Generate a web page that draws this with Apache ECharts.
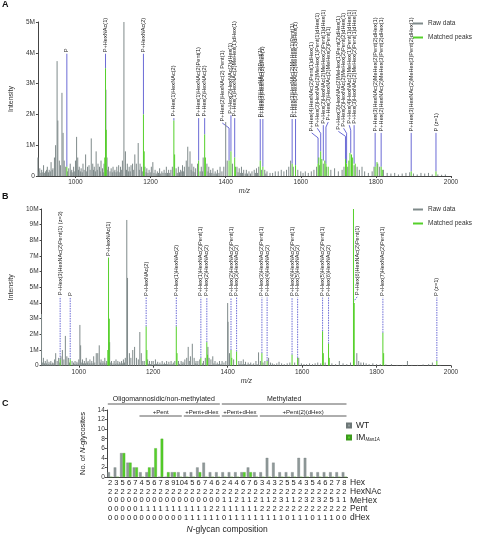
<!DOCTYPE html>
<html><head><meta charset="utf-8">
<script src="https://cdn.jsdelivr.net/npm/echarts@6/dist/echarts.min.js"></script>
<style>html,body{margin:0;padding:0;background:#fff}#c{width:477px;height:535px}</style>
</head><body><div id="c"></div>
<script>
// ---------- DATA ----------
const mzTicks = [1000, 1200, 1400, 1600, 1800, 2000];

// Panel A raw spectrum [m/z, intensity (M)]
const rawA = [[900,0.6],[903,0.15],[905,0.25],[908,0.1],[910,0.2],[913,0.12],[915,0.35],[918,0.1],[920,0.15],[923,0.2],[925,0.3],[928,0.12],[930,0.2],[933,0.15],[935,0.45],[938,0.2],[940,0.25],[944,0.6],[947,1.0],[951,3.73],[953,1.8],[957,0.5],[960,0.35],[964,2.7],[967,1.4],[970,0.5],[974,0.3],[979,0.15],[982,0.25],[986,0.4],[988,0.15],[990,0.2],[993,0.12],[995,0.3],[998,0.15],[1000,0.5],[1003,1.27],[1006,0.6],[1008,0.2],[1010,0.3],[1013,0.15],[1015,0.25],[1018,0.12],[1020,0.4],[1023,0.2],[1027,0.7],[1030,0.15],[1032,0.3],[1036,0.35],[1039,0.2],[1042,1.22],[1046,0.4],[1048,0.2],[1050,0.3],[1053,0.15],[1055,0.8],[1058,0.2],[1060,0.4],[1064,0.3],[1066,0.15],[1068,0.5],[1072,0.25],[1074,0.12],[1076,0.4],[1081,2.8],[1084,0.6],[1086,0.2],[1088,0.3],[1092,0.15],[1095,0.25],[1098,0.12],[1100,0.3],[1103,0.15],[1105,0.2],[1108,0.12],[1110,0.3],[1113,0.15],[1115,0.35],[1118,0.12],[1120,0.3],[1123,0.2],[1125,0.5],[1129,5.0],[1133,0.8],[1136,0.2],[1138,0.4],[1141,0.15],[1143,0.3],[1146,0.15],[1148,0.35],[1152,0.4],[1155,0.2],[1158,0.7],[1162,0.4],[1167,1.07],[1170,0.2],[1172,0.4],[1176,0.3],[1179,0.15],[1185,0.3],[1188,0.12],[1190,0.25],[1193,0.1],[1196,0.2],[1199,0.12],[1202,0.3],[1206,0.45],[1209,0.1],[1212,0.2],[1215,0.08],[1218,0.15],[1221,0.1],[1224,0.25],[1227,0.08],[1230,0.15],[1233,0.1],[1236,0.2],[1239,0.1],[1242,0.3],[1245,0.1],[1248,0.2],[1251,0.1],[1254,0.2],[1258,0.3],[1268,0.25],[1271,0.1],[1274,0.3],[1277,0.12],[1280,0.2],[1283,0.15],[1285,0.35],[1288,0.15],[1290,0.3],[1295,0.5],[1299,0.95],[1302,0.3],[1305,0.8],[1308,0.2],[1310,0.4],[1313,0.15],[1315,0.3],[1318,0.12],[1320,0.25],[1325,0.4],[1332,0.15],[1335,0.3],[1338,0.15],[1340,0.6],[1350,0.4],[1353,0.15],[1355,0.3],[1358,0.1],[1360,0.2],[1363,0.1],[1366,0.25],[1369,0.08],[1372,0.15],[1375,0.08],[1378,0.2],[1382,0.1],[1385,0.3],[1390,0.15],[1395,0.3],[1400,1.75],[1404,0.5],[1418,0.4],[1430,0.3],[1433,0.12],[1436,0.25],[1439,0.1],[1442,0.3],[1445,0.1],[1448,0.2],[1452,0.08],[1455,0.2],[1458,0.08],[1462,0.15],[1466,0.08],[1470,0.15],[1476,0.2],[1479,0.1],[1482,0.25],[1485,0.1],[1488,0.3],[1495,0.2],[1504,0.2],[1507,0.08],[1510,0.15],[1518,0.1],[1525,0.1],[1532,0.15],[1540,0.15],[1548,0.2],[1555,0.15],[1562,0.2],[1568,0.3],[1573,0.5],[1580,0.3],[1592,0.2],[1600,0.15],[1606,0.1],[1612,0.15],[1620,0.1],[1628,0.15],[1635,0.2],[1642,0.3],[1650,0.35],[1660,0.4],[1668,0.3],[1680,0.2],[1690,0.25],[1700,0.15],[1710,0.2],[1715,0.3],[1725,0.3],[1735,0.4],[1742,0.35],[1750,0.3],[1756,0.2],[1763,0.3],[1770,0.15],[1780,0.1],[1790,0.15],[1795,0.3],[1805,0.4],[1810,0.3],[1820,0.2],[1830,0.1],[1840,0.08],[1850,0.1],[1860,0.05],[1870,0.08],[1880,0.1],[1890,0.12],[1900,0.08],[1910,0.05],[1920,0.1],[1930,0.08],[1940,0.1],[1950,0.05],[1965,0.05],[1975,0.04],[1985,0.05]];
// Panel A matched peaks
const matchedA = [[977,0.3],[1078,0.6],[1080,3.5],[1082,1.5],[1181,2.0],[1183,0.8],[1262,1.8],[1264,0.7],[1328,0.5],[1344,1.35],[1346,0.6],[1409,0.5],[1414,0.8],[1424,0.6],[1426,0.3],[1492,0.5],[1499,0.3],[1577,0.4],[1586,0.35],[1646,0.4],[1648,0.6],[1653,0.8],[1656,0.55],[1664,0.5],[1667,0.4],[1673,0.3],[1719,0.55],[1722,0.4],[1728,0.5],[1731,0.75],[1735,0.7],[1738,0.6],[1745,0.4],[1798,0.3],[1803,0.45],[1814,0.3],[1817,0.2],[1894,0.15],[1960,0.15]];
// Panel A annotations [peak m/z, peak top (M), label level (M), label m/z, text]
const annotA = [
 [977,0.3,3.97,977,'P'],
 [1080,3.5,3.97,1080,'P+HexNAc(1)'],
 [1181,2.0,3.97,1181,'P+HexNAc(2)'],
 [1262,1.8,1.88,1262,'P+Hex(1)HexNAc(2)'],
 [1328,0.5,1.88,1328,'P+Hex(1)HexNAc(2)Pent(1)'],
 [1344,1.35,1.88,1344,'P+Hex(2)HexNAc(2)'],
 [1409,0.5,1.72,1391,'P+Hex(2)HexNAc(2) Pent(1)'],
 [1414,0.8,1.97,1414,'P+Hex(2)HexNAc(2)dHex(1)'],
 [1424,0.6,1.88,1424,'P+Hex(1)HexNAc(2)MeHex(1)dHex(1)'],
 [1492,0.5,1.85,1492,'P+Hex(3)HexNAc(2)Pent(1)'],
 [1499,0.3,1.85,1499,'P+Hex(3)HexNAc(2)dHex(1)'],
 [1577,0.4,1.85,1577,'P+Hex(3)HexNAc(2)MeHex(1)Pent(1)'],
 [1586,0.35,1.85,1586,'P+Hex(3)HexNAc(2)MeHex(1)dHex(1)'],
 [1646,0.4,1.4,1629,'P+Hex(4)HexNAc(2)Pent(1)dHex(1)'],
 [1653,0.8,1.55,1644,'P+Hex(3)HexNAc(2)MeHex(1)Pent(1)dHex(1)'],
 [1660,0.5,1.65,1660,'P+Hex(2)HexNAc(2)MeHex(2)Pent(1)dHex(1)'],
 [1667,0.4,1.75,1673,'P+Hex(3)HexNAc(2)MeHex(2)Pent(1)'],
 [1719,0.55,1.45,1700,'P+Hex(3)HexNAc(2)MeHex(1)Pent(2)dHex(1)'],
 [1722,0.4,1.55,1714,'P+Hex(2)HexNAc(2)MeHex(2)Pent(2)dHex(1)'],
 [1733,0.75,1.65,1729,'P+Hex(4)HexNAc(2)MeHex(1)Pent(1)dHex(1)'],
 [1742,0.4,1.65,1742,'P+Hex(3)HexNAc(2)MeHex(2)Pent(1)dHex(1)'],
 [1798,0.3,1.4,1798,'P+Hex(3)HexNAc(2)MeHex(2)Pent(2)dHex(1)'],
 [1814,0.3,1.4,1814,'P+Hex(2)HexNAc(2)MeHex(3)Pent(2)dHex(1)'],
 [1894,0.15,1.4,1894,'P+Hex(3)HexNAc(2)MeHex(3)Pent(2)dHex(1)'],
 [1960,0.15,1.4,1960,'P (z=1)']
];

// Panel B raw spectrum
const rawB = [[900,3.3],[903,0.2],[905,0.5],[908,0.15],[910,0.3],[913,0.15],[915,0.4],[918,0.12],[920,0.25],[923,0.15],[925,0.3],[928,0.12],[930,0.2],[933,0.15],[935,0.4],[938,0.8],[942,0.3],[946,0.5],[949,0.2],[952,0.6],[956,1.0],[960,0.4],[964,1.9],[968,0.6],[972,0.5],[975,0.2],[982,0.3],[986,0.2],[988,0.1],[990,0.3],[993,0.12],[995,0.25],[998,0.15],[1000,0.4],[1003,2.6],[1005,1.3],[1008,0.2],[1010,0.4],[1013,0.15],[1015,0.3],[1018,0.15],[1020,0.5],[1023,0.2],[1025,0.3],[1028,0.15],[1030,0.4],[1033,0.15],[1035,0.3],[1038,0.15],[1040,0.6],[1043,0.2],[1047,0.8],[1051,0.8],[1055,1.3],[1058,0.2],[1060,0.4],[1063,0.15],[1065,0.3],[1068,0.2],[1070,0.5],[1073,0.15],[1075,0.3],[1083,1.5],[1086,0.2],[1088,0.3],[1092,0.15],[1095,0.3],[1098,0.12],[1100,0.4],[1103,0.15],[1105,0.3],[1108,0.12],[1110,0.25],[1113,0.15],[1115,0.3],[1118,0.15],[1120,0.4],[1123,0.2],[1125,0.5],[1129,9.3],[1131,5.6],[1136,0.8],[1140,0.5],[1145,1.0],[1150,1.2],[1155,0.5],[1160,0.4],[1164,2.15],[1168,0.8],[1172,0.3],[1176,0.3],[1185,0.4],[1188,0.12],[1190,0.3],[1193,0.1],[1196,0.3],[1200,0.3],[1203,0.1],[1206,0.4],[1209,0.12],[1212,0.25],[1215,0.1],[1218,0.2],[1221,0.1],[1224,0.3],[1227,0.1],[1230,0.2],[1233,0.1],[1236,0.3],[1239,0.1],[1242,0.25],[1245,0.1],[1248,0.3],[1251,0.1],[1254,0.2],[1258,0.3],[1268,0.3],[1271,0.12],[1275,0.3],[1278,0.12],[1280,0.25],[1283,0.15],[1285,0.4],[1290,0.5],[1294,1.2],[1297,0.3],[1300,0.6],[1305,1.4],[1310,0.5],[1313,0.15],[1315,0.3],[1318,0.12],[1320,0.3],[1325,0.4],[1332,0.15],[1335,0.3],[1340,0.5],[1347,1.2],[1350,0.5],[1355,0.4],[1360,0.6],[1363,0.15],[1366,0.3],[1369,0.1],[1372,0.2],[1375,0.1],[1378,0.3],[1382,0.12],[1385,0.3],[1390,0.2],[1395,0.3],[1400,4.0],[1401,2.8],[1405,0.8],[1416,0.4],[1430,0.3],[1433,0.12],[1436,0.3],[1439,0.1],[1442,0.4],[1445,0.1],[1448,0.25],[1452,0.08],[1455,0.2],[1458,0.1],[1462,0.2],[1466,0.08],[1470,0.15],[1476,0.3],[1479,0.1],[1483,0.85],[1488,0.3],[1495,0.2],[1500,0.3],[1510,0.5],[1515,0.2],[1520,0.15],[1525,0.1],[1532,0.15],[1538,0.25],[1545,0.15],[1552,0.1],[1560,0.15],[1567,0.2],[1580,0.2],[1591,0.5],[1598,0.15],[1605,0.1],[1612,0.1],[1620,0.15],[1628,0.1],[1635,0.15],[1642,0.2],[1650,0.15],[1662,0.2],[1680,0.15],[1690,0.1],[1700,0.3],[1710,0.15],[1720,0.1],[1730,0.2],[1747,0.8],[1752,0.3],[1758,0.2],[1765,0.2],[1772,0.15],[1780,0.1],[1790,0.15],[1800,0.1],[1810,0.1],[1825,0.08],[1840,0.1],[1855,0.05],[1870,0.05],[1883,0.3],[1895,0.05],[1910,0.05],[1925,0.08],[1940,0.1],[1950,0.2],[1970,0.05]];
const matchedB = [[950,0.4],[977,0.4],[1078,1.0],[1080,6.9],[1082,3.0],[1181,2.5],[1183,1.0],[1262,2.5],[1264,0.8],[1328,0.5],[1344,1.5],[1346,0.7],[1409,1.0],[1411,0.5],[1424,0.9],[1492,0.8],[1506,0.3],[1573,0.7],[1588,0.5],[1655,2.2],[1657,0.8],[1671,1.4],[1673,0.5],[1738,10.0],[1740,4.0],[1817,2.1],[1819,0.8],[1962,0.3]];
const annotB = [
 [950,0.4,4.4,950,'P+Hex(3)HexNAc(2)Pent(1) (z=3)'],
 [977,0.4,4.35,977,'P'],
 [1080,6.9,6.9,1080,'P+HexNAc(1)'],
 [1181,2.5,4.35,1181,'P+HexNAc(2)'],
 [1262,2.5,4.35,1262,'P+Hex(1)HexNAc(2)'],
 [1328,0.5,4.35,1328,'P+Hex(1)HexNAc(2)Pent(1)'],
 [1344,1.5,4.35,1344,'P+Hex(2)HexNAc(2)'],
 [1409,1.0,4.35,1409,'P+Hex(2)HexNAc(2)Pent(1)'],
 [1424,0.9,4.35,1424,'P+Hex(3)HexNAc(2)'],
 [1492,0.8,4.35,1492,'P+Hex(3)HexNAc(2)Pent(1)'],
 [1506,0.3,4.35,1506,'P+Hex(4)HexNAc(2)'],
 [1573,0.7,4.35,1573,'P+Hex(4)HexNAc(2)Pent(1)'],
 [1588,0.5,4.35,1588,'P+Hex(5)HexNAc(2)'],
 [1655,2.2,4.35,1655,'P+Hex(5)HexNAc(2)Pent(1)'],
 [1671,1.4,4.35,1671,'P+Hex(6)HexNAc(2)'],
 [1738,3.9,4.4,1748,'P+Hex(6)HexNAc(2)Pent(1)'],
 [1817,2.1,4.35,1817,'P+Hex(7)HexNAc(2)Pent(1)'],
 [1962,0.3,4.35,1962,'P (z=1)']
];

// Panel C
const hexRow    = [2,3,5,6,7,4,5,6,7,8,9,10,4,5,6,7,4,6, 2,4,4,6,7,6,3,4,3,2,5,5,4,3,5,4,6,2,7,8];
const hexnacRow = [2,2,2,2,2,2,2,2,2,2,2,2,2,2,2,2,2,2, 2,2,2,2,2,2,2,2,2,2,2,2,2,2,2,2,2,2,2,2];
const mehexRow  = [0,0,0,0,0,0,0,0,0,0,0,0,0,0,0,0,0,0, 1,1,2,1,1,2,1,1,2,3,1,1,2,3,2,3,2,5,1,1];
const pentRow   = [0,0,0,0,0,1,1,1,1,1,1,1,1,1,1,1,2,2, 1,1,1,1,1,1,2,2,2,2,2,2,2,2,2,2,2,2,2,2];
const dhexRow   = [0,0,0,0,0,0,0,0,0,0,0,0,1,1,1,1,1,1, 0,1,1,1,1,1,1,1,1,1,0,1,1,1,0,1,1,1,0,0];
const wtCounts  = [1,2,5,3,2,1,1,2,0,0,1,1, 1,1,2,3,1,1, 1,1,1,1,2,1,1,4,3,1,1,1,4,4,1,1,1,1,1,1];
const imCounts  = [0,0,5,3,2,0,2,6,8,1,1,0, 0,0,1,0,0,0, 0,0,0,1,1,0,0,0,0,0,0,0,0,0,0,0,0,0,0,0];
const rowNames  = ['Hex','HexNAc','MeHex','Pent','dHex'];
const brackets  = [[0,17,'Oligomannosidic/non-methylated',0],[18,37,'Methylated',0],[5,11,'+Pent',1],[12,17,'+Pent+dHex',1],[18,23,'+Pent+dHex',1],[24,37,'+Pent(2)(dHex)',1]];

// ---------- STYLE ----------
const FONT = 'Liberation Sans, Arial, sans-serif';
const GRAY = '#7f8a8a', GREEN = '#55d02a', BLUE = '#6b6bd6', AXIS = '#444';

function stick(params, api) {
  const t = api.coord([api.value(0), api.value(1)]);
  const b = api.coord([api.value(0), 0]);
  return { type: 'line', shape: { x1: t[0], y1: t[1], x2: b[0], y2: b[1] },
           style: { stroke: api.visual('color'), lineWidth: 1 } };
}
function annotRenderer(list, dashed) {
  return function (params, api) {
    const row = list[params.dataIndex];
    const peak = api.coord([row[0], row[1]]);
    const lab = api.coord([row[3], row[2]]);
    const pts = [peak];
    if (Math.abs(lab[0] - peak[0]) > 0.5) pts.push([peak[0], lab[1] + 5]);
    pts.push(lab);
    const lineStyle = { stroke: BLUE, lineWidth: 1, fill: null };
    if (dashed) lineStyle.lineDash = [1.5, 1];
    return { type: 'group', children: [
      { type: 'polyline', shape: { points: pts }, style: lineStyle },
      { type: 'text', x: lab[0], y: lab[1] - 1.5, rotation: Math.PI / 2,
        style: { text: row[4], fontSize: 5.6, fontFamily: FONT, fill: '#222',
                 align: 'left', verticalAlign: 'middle' } }
    ]};
  };
}
function mAxisY(grid, max) {
  return { type: 'value', gridIndex: grid, min: 0, max: max, interval: 1,
    name: 'Intensity', nameLocation: 'middle', nameGap: 20,
    nameTextStyle: { fontSize: 7, fontFamily: FONT, color: '#333' },
    axisLine: { show: true, lineStyle: { color: AXIS } },
    axisTick: { show: true, length: 2, lineStyle: { color: AXIS } },
    axisLabel: { fontSize: 6.5, fontFamily: FONT, color: '#333', margin: 3,
      formatter: v => v === 0 ? '0' : v + 'M' },
    splitLine: { show: false } };
}
function mAxisX(grid) {
  return { type: 'value', gridIndex: grid, min: 900, max: 2000,
    name: 'm/z', nameLocation: 'middle', nameGap: 12,
    nameTextStyle: { fontSize: 7, fontStyle: 'italic', fontFamily: FONT, color: '#333' },
    axisLine: { show: true, onZero: false, lineStyle: { color: AXIS } },
    axisTick: { show: true, length: 2, customValues: mzTicks, lineStyle: { color: AXIS } },
    axisLabel: { fontSize: 6.5, fontFamily: FONT, color: '#333', margin: 3, customValues: mzTicks,
      formatter: v => String(Math.round(v)) },
    splitLine: { show: false } };
}

const chart = echarts.init(document.getElementById('c'));
const option = {
  animation: false,
  backgroundColor: '#fff',
  grid: [
    { left: 28.6, right: 26, top: 22, bottom: 359 },
    { left: 28.6, right: 26, top: 209, bottom: 169.3 },
    { left: 106.8, right: 129.5, top: 410, bottom: 56.7 }
  ],
  xAxis: [ mAxisX(0), mAxisX(1),
    { type: 'category', gridIndex: 2, data: hexRow.map((_, i) => i),
      axisLine: { show: true, lineStyle: { color: AXIS } }, axisTick: { show: false },
      axisLabel: { interval: 0, fontSize: 7.5, fontFamily: FONT, color: '#222', margin: 1.5, lineHeight: 8.7,
        formatter: (v, i) => [hexRow[i], hexnacRow[i], mehexRow[i], pentRow[i], dhexRow[i]].join('\n') },
      name: '{i|N}{a|-glycan composition}', nameLocation: 'middle', nameGap: 48,
      nameTextStyle: { rich: { i: { fontSize: 8.5, fontStyle: 'italic', fontFamily: FONT, color: '#222' },
                               a: { fontSize: 8.5, fontFamily: FONT, color: '#222' } } } }
  ],
  yAxis: [ mAxisY(0, 5), mAxisY(1, 10),
    { type: 'value', gridIndex: 2, min: 0, max: 14, interval: 2,
      name: '{a|No. of }{i|N}{a|-glycosites}', nameLocation: 'middle', nameGap: 5,
      nameTextStyle: { rich: { i: { fontSize: 7.5, fontStyle: 'italic', fontFamily: FONT, color: '#222' },
                               a: { fontSize: 7.5, fontFamily: FONT, color: '#222' } } },
      axisLine: { show: true, lineStyle: { color: AXIS } },
      axisTick: { show: true, length: 2, lineStyle: { color: AXIS } },
      axisLabel: { fontSize: 6.5, fontFamily: FONT, color: '#333', margin: 2 },
      splitLine: { show: false } }
  ],
  legend: [
    { data: ['Raw data', 'Matched peaks'], orient: 'vertical', left: 413, top: 20, itemWidth: 10, itemHeight: 2, itemGap: 7,
      icon: 'rect', textStyle: { fontSize: 6.5, fontFamily: FONT, color: '#333' }, selectedMode: false, padding: 0 },
    { data: ['Raw data', 'Matched peaks'], orient: 'vertical', left: 413, top: 206, itemWidth: 10, itemHeight: 2, itemGap: 7,
      icon: 'rect', textStyle: { fontSize: 6.5, fontFamily: FONT, color: '#333' }, selectedMode: false, padding: 0 },
    { data: ['WT', 'IM'], orient: 'vertical', left: 346, top: 421, itemWidth: 4, itemHeight: 4, itemGap: 3,
      icon: 'rect', selectedMode: false, padding: 0,
      formatter: n => n === 'IM' ? '{a|IM}{s|Man1A}' : '{a|WT}',
      textStyle: { rich: { a: { fontSize: 8.5, fontFamily: FONT, color: '#222' },
                           s: { fontSize: 4.5, fontStyle: 'italic', fontFamily: FONT, color: '#222', padding: [5, 0, 0, 0] } } } }
  ],
  series: [
    { type: 'custom', name: 'Raw data', xAxisIndex: 0, yAxisIndex: 0, data: rawA, renderItem: stick, itemStyle: { color: GRAY }, clip: true },
    { type: 'custom', name: 'annotA', xAxisIndex: 0, yAxisIndex: 0, data: annotA.map(r => [r[0], r[1], r[2], r[3]]), renderItem: annotRenderer(annotA, false), clip: false, z: 1 },
    { type: 'custom', name: 'Matched peaks', xAxisIndex: 0, yAxisIndex: 0, data: matchedA, renderItem: stick, itemStyle: { color: GREEN }, clip: true, z: 3 },
    { type: 'custom', name: 'Raw data', xAxisIndex: 1, yAxisIndex: 1, data: rawB, renderItem: stick, itemStyle: { color: GRAY }, clip: true },
    { type: 'custom', name: 'annotB', xAxisIndex: 1, yAxisIndex: 1, data: annotB.map(r => [r[0], r[1], r[2], r[3]]), renderItem: annotRenderer(annotB, true), clip: false, z: 1 },
    { type: 'custom', name: 'Matched peaks', xAxisIndex: 1, yAxisIndex: 1, data: matchedB, renderItem: stick, itemStyle: { color: GREEN }, clip: true, z: 3 },
    { type: 'bar', name: 'WT', xAxisIndex: 2, yAxisIndex: 2, data: wtCounts, barWidth: 2.6, barGap: '0%',
      itemStyle: { color: '#8f9999', borderColor: '#6d7777', borderWidth: 0.3 } },
    { type: 'bar', name: 'IM', xAxisIndex: 2, yAxisIndex: 2, data: imCounts, barWidth: 2.6, barGap: '0%',
      itemStyle: { color: GREEN, borderColor: '#3c9a1c', borderWidth: 0.3 } }
  ],
  graphic: []
};
chart.setOption(option);

// panel letters, row names and brackets (positions derived from axes)
const g = [];
[['A', 5], ['B', 197], ['C', 404]].forEach(([t, y]) => g.push({ type: 'text', x: 2, y: y,
  style: { text: t, fontSize: 9, fontWeight: 'bold', fontFamily: FONT, fill: '#111', verticalAlign: 'middle' } }));
const x0 = chart.convertToPixel({ xAxisIndex: 2 }, 0), x1 = chart.convertToPixel({ xAxisIndex: 2 }, 1);
const band = x1 - x0;
const baseY = chart.convertToPixel({ yAxisIndex: 2 }, 0);
rowNames.forEach((n, i) => g.push({ type: 'text', x: 350, y: baseY + 6 + i * 8.7,
  style: { text: n, fontSize: 8.5, fontFamily: FONT, fill: '#222', verticalAlign: 'middle' } }));
const topY = chart.convertToPixel({ yAxisIndex: 2 }, 14);
brackets.forEach(([s, e, t, lvl]) => {
  const xs = chart.convertToPixel({ xAxisIndex: 2 }, s) - band / 2 + 1;
  const xe = chart.convertToPixel({ xAxisIndex: 2 }, e) + band / 2 - 1;
  const ly = lvl === 0 ? topY - 6 : topY + 6;
  g.push({ type: 'line', shape: { x1: xs, y1: ly, x2: xe, y2: ly }, style: { stroke: '#333', lineWidth: 0.8 } });
  g.push({ type: 'text', x: (xs + xe) / 2, y: ly - 1, style: { text: t, fontSize: lvl === 0 ? 7 : 6, fontFamily: FONT,
    fill: '#222', align: 'center', verticalAlign: 'bottom' } });
});
chart.setOption({ graphic: g });
</script>
</body></html>
